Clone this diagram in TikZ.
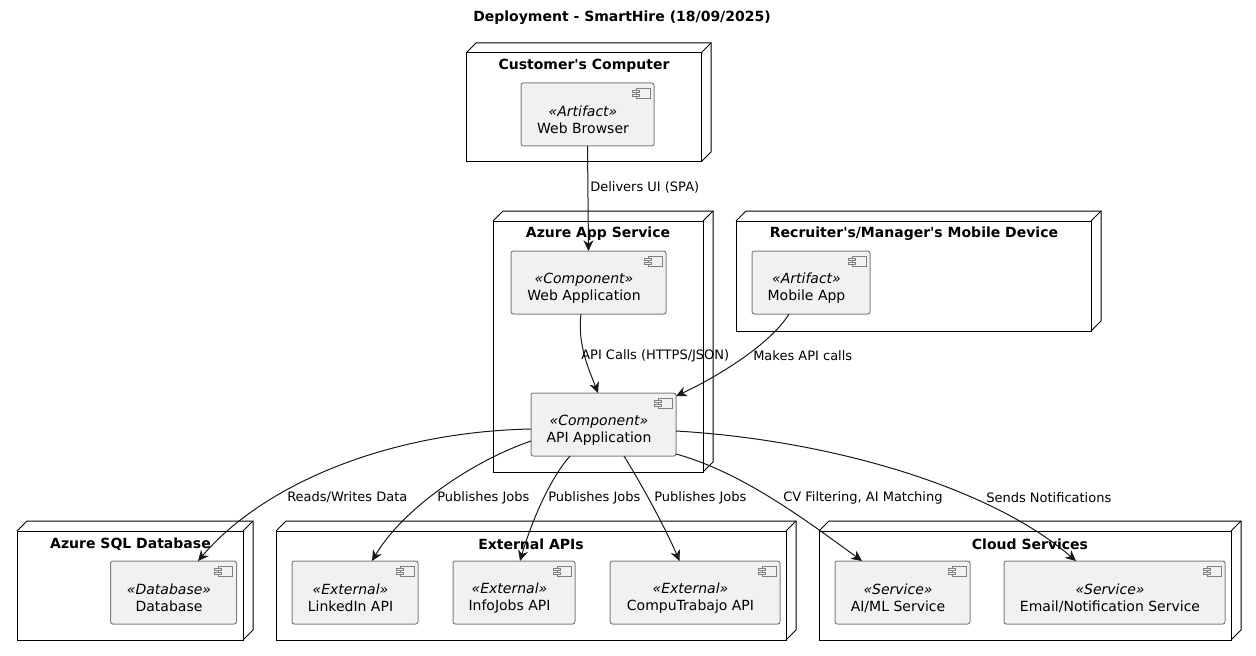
\documentclass[tikz,border=0pt]{standalone}
\usepackage{fontspec}
\setmainfont{DejaVu Sans}
\usetikzlibrary{arrows.meta,fit}

\definecolor{compfill}{HTML}{F1F1F1}
\definecolor{compline}{HTML}{808080}
\definecolor{edgeline}{HTML}{181818}

\tikzset{
	devicebox/.style={draw=black,line width=0.75pt,inner sep=0pt,outer sep=0pt},
	devicetitle/.style={font=\fontsize{10.5}{12.75}\selectfont\bfseries,inner sep=0pt},
	compbox/.style={draw=compline,fill=compfill,line width=0.75pt,rounded corners=1.8pt,inner sep=0pt,outer sep=0pt},
	comptext/.style={inner sep=0pt,align=center,font=\fontsize{10.5}{12.75}\selectfont},
	compicon/.style={draw=compline,fill=compfill,line width=0.6pt},
	edgelabel/.style={font=\fontsize{9.75}{12}\selectfont,inner sep=0pt,anchor=west},
	link/.style={draw=edgeline,line width=0.75pt,-{Stealth[length=8pt,width=7.5pt,inset=2.5pt]}}
}

\newcommand{\device}[7]{
	\node[devicebox,fit={(#2,#3) (#4,#5)}] (#1) {};
	\draw[devicebox] (#1.north west) -- ++(10,-10) -- ([shift={(10,-10)}]#1.north east) -- ([shift={(10,-10)}]#1.south east) -- (#1.south east);
	\draw[devicebox] (#1.north east) -- ++(10,-10);
	\node[devicetitle] (#1title) at (#6,#3+13) {#7};
}
\newcommand{\component}[7]{
	\node[compbox,fit={(#2,#3) (#4,#5)}] (#1) {};
	\node[comptext] (#1text) at ([shift={(-4.5,5.5)}]#1.center) {{\itshape «#6»}\\#7};
	\draw[compicon] ([shift={(-18,5)}]#1.north east) rectangle ++(14,10);
	\draw[compicon] ([shift={(-22,7)}]#1.north east) rectangle ++(7,2);
	\draw[compicon] ([shift={(-22,11)}]#1.north east) rectangle ++(7,2);
}

\begin{document}
\begin{tikzpicture}[x=0.75pt,y=-0.75pt]
	\useasboundingbox (0,0) rectangle (1256,656);

	\node[devicetitle] (title) at (622,18) {Deployment - SmartHire (18/09/2025)};

	\device{customer}{466}{53}{701}{162}{584}{Customer\textquotesingle s Computer}
	\device{appservice}{493}{221}{703}{472}{598}{Azure App Service}
	\device{mobile}{736}{221}{1091}{331}{914}{Recruiter\textquotesingle s/Manager\textquotesingle s Mobile Device}
	\device{sqldb}{17}{531}{243}{640}{130.5}{Azure SQL Database}
	\device{external}{276}{531}{786}{640}{531}{External APIs}
	\device{cloud}{819}{531}{1231}{640}{1030}{Cloud Services}

	\component{browser}{521}{83}{654}{146}{Artifact}{Web Browser}
	\component{webapp}{511}{251}{666}{314}{Component}{Web Application}
	\component{mobileapp}{752}{251}{870}{314}{Artifact}{Mobile App}
	\component{api}{531}{393}{676}{456}{Component}{API Application}
	\component{database}{110.5}{561}{236.5}{624}{Database}{Database}
	\component{linkedin}{292}{561}{418}{624}{External}{LinkedIn API}
	\component{infojobs}{453}{561}{575}{624}{External}{InfoJobs API}
	\component{compu}{610}{561}{780}{624}{External}{CompuTrabajo API}
	\component{aiml}{835}{561}{970}{624}{Service}{AI/ML Service}
	\component{email}{1004}{561}{1225}{624}{Service}{Email/Notification Service}

	\draw[link] (browser.south) -- (webapp.north);
	\draw[link] ([shift={(-7.5,0)}]webapp.south) .. controls (577,345) and (590,372) .. ([shift={(-5.5,0)}]api.north);
	\draw[link] ([shift={(-81,0)}]mobileapp.south east) .. controls (770,345) and (715,378) .. ([shift={(0,3)}]api.north east);
	\draw[link] ([shift={(0,4.5)}]api.west) .. controls (385,432) and (262,486) .. ([shift={(24.5,0)}]database.north);
	\draw[link] ([shift={(0,16.5)}]api.west) .. controls (470,462) and (402,510) .. ([shift={(17,0)}]linkedin.north);
	\draw[link] ([shift={(-33.5,0)}]api.south) .. controls (547,482) and (529,530) .. ([shift={(6,0)}]infojobs.north);
	\draw[link] ([shift={(20.5,0)}]api.south) .. controls (640,482) and (664,525) .. ([shift={(-15.5,0)}]compu.north);
	\draw[link] ([shift={(0,29.5)}]api.east) .. controls (741,472) and (803,518) .. ([shift={(-40.5,0)}]aiml.north);
	\draw[link] ([shift={(0,6.5)}]api.east) .. controls (830,440) and (990,487) .. ([shift={(-38.5,0)}]email.north);

	\node[edgelabel] (deliverslabel) at (590,187.5) {Delivers UI (SPA)};
	\node[edgelabel] (callslabel) at (581,355.5) {API Calls (HTTPS/JSON)};
	\node[edgelabel] (makeslabel) at (753,355.5) {Makes API calls};
	\node[edgelabel] (readslabel) at (287,497.5) {Reads/Writes Data};
	\node[edgelabel] (linkedinlabel) at (437,497.5) {Publishes Jobs};
	\node[edgelabel] (infojobslabel) at (548,497.5) {Publishes Jobs};
	\node[edgelabel] (compulabel) at (654,497.5) {Publishes Jobs};
	\node[edgelabel] (filterlabel) at (783,497.5) {CV Filtering, AI Matching};
	\node[edgelabel] (sendslabel) at (986,497.5) {Sends Notifications};
\end{tikzpicture}
\end{document}
